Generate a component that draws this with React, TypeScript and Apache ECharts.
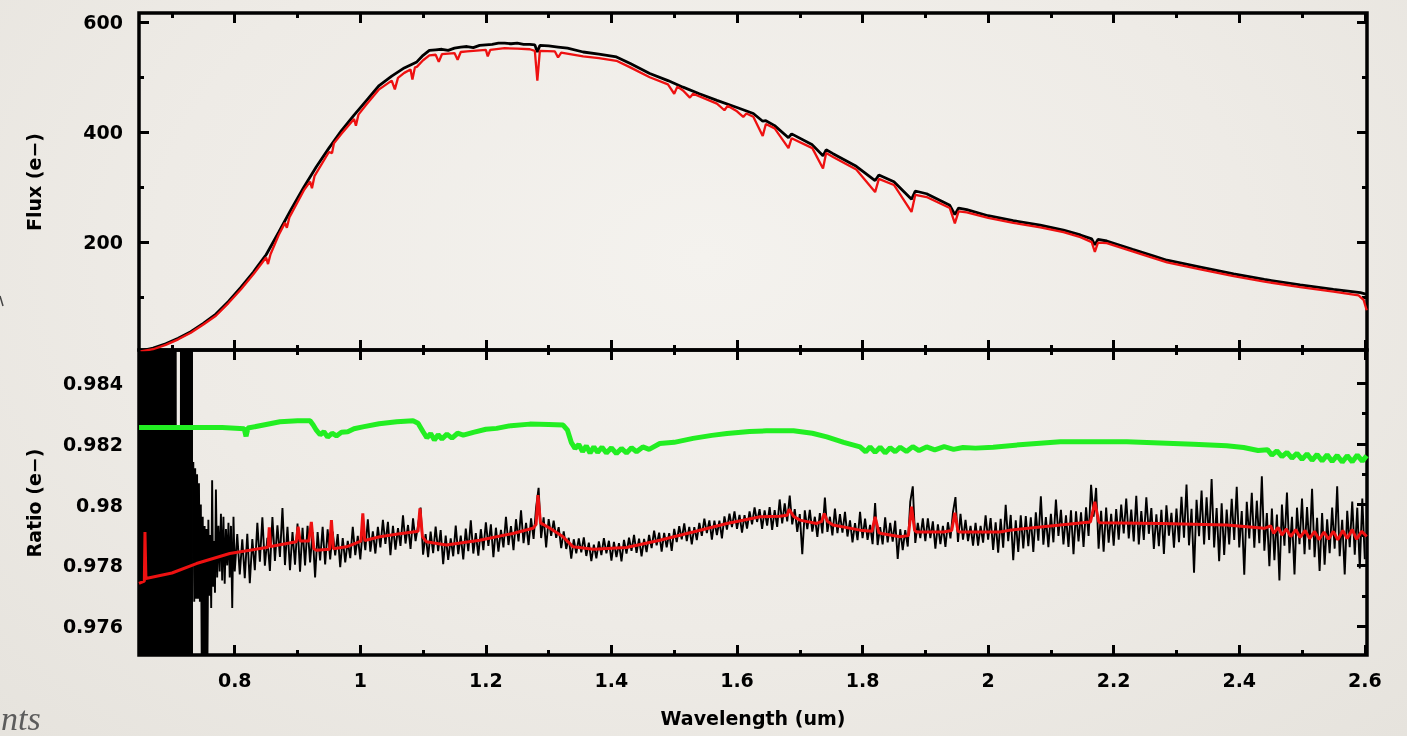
import React, { useEffect, useRef } from "react";
import * as echarts from "echarts";

// ---------- axes ----------
const X_MIN = 0.6475;
const X_MAX = 2.6035;
const FLUX_MIN = 3.6;
const FLUX_MAX = 617;
const RATIO_MIN = 0.97505;
const RATIO_MAX = 0.98509;

const X_MAJOR = [0.8, 1, 1.2, 1.4, 1.6, 1.8, 2, 2.2, 2.4, 2.6];
const X_MINOR = [0.7, 0.9, 1.1, 1.3, 1.5, 1.7, 1.9, 2.1, 2.3, 2.5];
const FLUX_MAJOR = [200, 400, 600];
const FLUX_MINOR = [100, 300, 500];
const RATIO_MAJOR = [0.976, 0.978, 0.98, 0.982, 0.984];
const RATIO_MINOR = [0.977, 0.979, 0.981, 0.983];

const X_TITLE = "Wavelength (um)";
const FLUX_TITLE = "Flux (e\u2212)";
const RATIO_TITLE = "Ratio (e\u2212)";

// ---------- top panel: flux ----------
const FLUX_OBS = [
  [0.65, 2], [0.67, 7], [0.69, 15], [0.71, 25], [0.73, 37], [0.75, 52], [0.77, 69], [0.79, 92],
  [0.81, 118], [0.83, 146], [0.85, 177], [0.87, 218], [0.89, 260], [0.91, 300], [0.93, 337],
  [0.95, 371], [0.97, 403], [0.99, 431], [1.01, 458], [1.03, 485], [1.05, 502], [1.07, 517],
  [1.09, 528], [1.1, 540], [1.11, 549], [1.12, 550], [1.13, 551], [1.14, 549], [1.15, 553],
  [1.16, 555], [1.17, 556], [1.18, 554], [1.19, 558], [1.2, 559], [1.21, 560], [1.22, 562],
  [1.23, 562], [1.24, 561], [1.25, 562], [1.26, 560], [1.27, 560], [1.278, 559], [1.282, 546],
  [1.286, 558], [1.3, 557], [1.315, 555], [1.33, 553], [1.355, 546], [1.38, 542], [1.408, 537],
  [1.43, 525], [1.461, 507], [1.49, 494], [1.514, 482], [1.54, 470], [1.568, 458], [1.6, 445],
  [1.626, 434], [1.641, 420], [1.646, 421], [1.66, 412], [1.682, 390], [1.687, 397], [1.72, 377],
  [1.737, 357], [1.742, 368], [1.753, 361], [1.79, 338], [1.82, 312], [1.826, 322], [1.85, 310],
  [1.878, 278], [1.884, 293], [1.902, 288], [1.939, 267], [1.947, 250], [1.953, 262], [1.966, 259],
  [2.0, 248], [2.04, 239], [2.083, 231], [2.12, 222], [2.147, 213], [2.165, 206], [2.17, 195],
  [2.175, 205], [2.189, 202], [2.23, 187], [2.285, 167], [2.34, 154], [2.391, 142], [2.44, 132],
  [2.497, 122], [2.55, 114], [2.593, 108], [2.603, 105],
];

const FLUX_MODEL = [
  [0.65, 1], [0.67, 5], [0.69, 13], [0.71, 23], [0.73, 35], [0.75, 50], [0.77, 66], [0.79, 89],
  [0.81, 114], [0.83, 142], [0.85, 172], [0.853, 160], [0.857, 178], [0.87, 213], [0.88, 235],
  [0.883, 226], [0.887, 245], [0.91, 294], [0.92, 310], [0.923, 298], [0.927, 320], [0.95, 364],
  [0.955, 362], [0.958, 380], [0.97, 397], [0.99, 424], [0.993, 412], [0.997, 432], [1.01, 451],
  [1.03, 478], [1.05, 494], [1.055, 478], [1.06, 499], [1.07, 508], [1.08, 514], [1.083, 496],
  [1.087, 518], [1.09, 519], [1.1, 531], [1.11, 540], [1.12, 541], [1.125, 528], [1.13, 542],
  [1.15, 544], [1.155, 532], [1.16, 546], [1.17, 547], [1.19, 549], [1.2, 550], [1.203, 538],
  [1.207, 550], [1.23, 553], [1.25, 552], [1.27, 551], [1.278, 548], [1.282, 494], [1.286, 548],
  [1.31, 547], [1.315, 536], [1.32, 545], [1.355, 538], [1.38, 535], [1.408, 530], [1.43, 518],
  [1.461, 500], [1.49, 487], [1.5, 470], [1.505, 483], [1.514, 476], [1.525, 463], [1.53, 470],
  [1.568, 452], [1.58, 440], [1.585, 448], [1.6, 438], [1.61, 428], [1.615, 434], [1.626, 428],
  [1.641, 393], [1.646, 415], [1.66, 407], [1.682, 371], [1.687, 389], [1.72, 371], [1.737, 334],
  [1.742, 362], [1.753, 355], [1.79, 332], [1.82, 291], [1.826, 315], [1.85, 304], [1.878, 255],
  [1.884, 286], [1.902, 282], [1.939, 262], [1.947, 234], [1.953, 256], [1.966, 254], [2.0, 244],
  [2.04, 235], [2.083, 227], [2.12, 218], [2.147, 209], [2.165, 200], [2.17, 182], [2.175, 199],
  [2.189, 198], [2.23, 183], [2.285, 163], [2.34, 150], [2.391, 138], [2.44, 128], [2.497, 118],
  [2.55, 110], [2.59, 103], [2.598, 95], [2.603, 76],
];

// ---------- bottom panel: ratio ----------
// blue end, where the noisy ratio swings beyond both axis limits
const RATIO_SATURATED = [
  [0.6475, 0.9855], [0.7075, 0.9855], [0.7076, 0.9826], [0.7127, 0.9826], [0.7128, 0.9855],
  [0.7335, 0.9855],
];

const RATIO_OBS = [
  [0.734, 0.9814], [0.7355, 0.9768], [0.737, 0.9812], [0.7385, 0.9769], [0.74, 0.981],
  [0.7415, 0.9769], [0.743, 0.9807], [0.7445, 0.9768], [0.746, 0.98], [0.7475, 0.9745],
  [0.749, 0.9796], [0.7505, 0.9745], [0.752, 0.9793], [0.7535, 0.9745], [0.755, 0.9792],
  [0.7565, 0.9748], [0.758, 0.9795], [0.7595, 0.977], [0.761, 0.979], [0.7625, 0.9766],
  [0.764, 0.9808], [0.7655, 0.9773], [0.767, 0.9788], [0.7685, 0.9771], [0.77, 0.9805],
  [0.772, 0.9776], [0.774, 0.9793], [0.776, 0.9778], [0.778, 0.9797], [0.78, 0.9775],
  [0.782, 0.9796], [0.784, 0.9774], [0.786, 0.9792], [0.788, 0.978], [0.79, 0.9794],
  [0.792, 0.9776], [0.794, 0.9793], [0.796, 0.9766], [0.798, 0.9796], [0.8, 0.9778],
  [0.804, 0.97903], [0.808, 0.9777], [0.812, 0.97886], [0.816, 0.97758], [0.82, 0.97904],
  [0.824, 0.97741], [0.828, 0.97887], [0.832, 0.97784], [0.836, 0.9794], [0.84, 0.97812],
  [0.844, 0.97958], [0.848, 0.97799], [0.852, 0.97891], [0.856, 0.97782], [0.86, 0.97959],
  [0.864, 0.97815], [0.868, 0.97932], [0.872, 0.97828], [0.876, 0.97989], [0.88, 0.97801],
  [0.884, 0.97927], [0.888, 0.97784], [0.892, 0.9791], [0.896, 0.97802], [0.9, 0.97938],
  [0.904, 0.97779], [0.908, 0.97924], [0.912, 0.978], [0.916, 0.9793], [0.92, 0.9781],
  [0.924, 0.9791], [0.928, 0.9776], [0.932, 0.9791], [0.936, 0.97816], [0.94, 0.97927],
  [0.944, 0.97803], [0.948, 0.97919], [0.952, 0.9782], [0.956, 0.97911], [0.96, 0.97833],
  [0.964, 0.97903], [0.968, 0.97794], [0.972, 0.9789], [0.976, 0.9781], [0.98, 0.97881],
  [0.984, 0.97824], [0.988, 0.97927], [0.992, 0.97834], [0.996, 0.97897], [1.0, 0.9782],
  [1.004, 0.97922], [1.008, 0.9785], [1.012, 0.97952], [1.016, 0.97845], [1.02, 0.97912],
  [1.024, 0.97839], [1.028, 0.97927], [1.032, 0.97859], [1.036, 0.9795], [1.04, 0.97871],
  [1.044, 0.97943], [1.048, 0.97834], [1.052, 0.9793], [1.056, 0.97852], [1.06, 0.97923],
  [1.064, 0.97864], [1.068, 0.97965], [1.072, 0.97872], [1.076, 0.97933], [1.08, 0.97854],
  [1.084, 0.97955], [1.088, 0.9788], [1.092, 0.97932], [1.096, 0.9799], [1.1, 0.97835],
  [1.104, 0.97903], [1.108, 0.97827], [1.112, 0.97911], [1.116, 0.9784], [1.12, 0.97928],
  [1.124, 0.97847], [1.128, 0.97916], [1.132, 0.97804], [1.136, 0.97898], [1.14, 0.97818],
  [1.144, 0.97889], [1.148, 0.9783], [1.152, 0.97931], [1.156, 0.97837], [1.16, 0.97898],
  [1.164, 0.9782], [1.168, 0.97921], [1.172, 0.97847], [1.176, 0.97948], [1.18, 0.97839],
  [1.184, 0.97906], [1.188, 0.97832], [1.192, 0.97919], [1.196, 0.9785], [1.2, 0.97942],
  [1.204, 0.97864], [1.208, 0.97935], [1.212, 0.97827], [1.216, 0.97924], [1.22, 0.97845],
  [1.224, 0.97917], [1.228, 0.97859], [1.232, 0.9796], [1.236, 0.97867], [1.24, 0.97929],
  [1.244, 0.9785], [1.248, 0.97952], [1.252, 0.97879], [1.256, 0.97981], [1.26, 0.97873],
  [1.264, 0.9794], [1.268, 0.97867], [1.272, 0.97955], [1.276, 0.97887], [1.28, 0.9799],
  [1.284, 0.98055], [1.288, 0.9789], [1.292, 0.97958], [1.296, 0.97859], [1.3, 0.97952],
  [1.304, 0.97897], [1.308, 0.97947], [1.312, 0.97891], [1.316, 0.97926], [1.32, 0.97857],
  [1.324, 0.97912], [1.328, 0.97854], [1.332, 0.97891], [1.336, 0.97822], [1.34, 0.97886],
  [1.344, 0.9784], [1.348, 0.97889], [1.352, 0.97843], [1.356, 0.97892], [1.36, 0.97831],
  [1.364, 0.97875], [1.368, 0.97814], [1.372, 0.97868], [1.376, 0.97823], [1.38, 0.97879],
  [1.384, 0.97834], [1.388, 0.9789], [1.392, 0.9784], [1.396, 0.97881], [1.4, 0.97816],
  [1.404, 0.97877], [1.408, 0.97827], [1.412, 0.97873], [1.416, 0.97813], [1.42, 0.97884],
  [1.424, 0.97839], [1.428, 0.97891], [1.432, 0.97848], [1.436, 0.979], [1.44, 0.97841],
  [1.444, 0.97888], [1.448, 0.9783], [1.452, 0.97887], [1.456, 0.97844], [1.46, 0.979],
  [1.464, 0.97857], [1.468, 0.97914], [1.472, 0.97866], [1.476, 0.97908], [1.48, 0.97845],
  [1.484, 0.97907], [1.488, 0.97859], [1.492, 0.97906], [1.496, 0.97848], [1.5, 0.9792],
  [1.504, 0.97877], [1.508, 0.97929], [1.512, 0.97886], [1.516, 0.97938], [1.52, 0.9788],
  [1.524, 0.97927], [1.528, 0.97869], [1.532, 0.97926], [1.536, 0.97883], [1.54, 0.9794],
  [1.544, 0.97897], [1.548, 0.97954], [1.552, 0.97906], [1.556, 0.97948], [1.56, 0.97885],
  [1.564, 0.97947], [1.568, 0.979], [1.572, 0.97947], [1.576, 0.97889], [1.58, 0.97961],
  [1.584, 0.97918], [1.588, 0.9797], [1.592, 0.97926], [1.596, 0.97978], [1.6, 0.9792],
  [1.604, 0.97966], [1.608, 0.97908], [1.612, 0.97965], [1.616, 0.97921], [1.62, 0.97978],
  [1.624, 0.97935], [1.628, 0.97991], [1.632, 0.97943], [1.636, 0.97985], [1.64, 0.9792],
  [1.644, 0.97981], [1.648, 0.97931], [1.652, 0.97992], [1.656, 0.97917], [1.66, 0.97982],
  [1.664, 0.97927], [1.668, 0.98017], [1.672, 0.97938], [1.676, 0.98004], [1.68, 0.97945],
  [1.684, 0.9803], [1.688, 0.97935], [1.692, 0.97985], [1.696, 0.9791], [1.7, 0.97969],
  [1.704, 0.97837], [1.708, 0.97981], [1.712, 0.97919], [1.716, 0.97983], [1.72, 0.97911],
  [1.724, 0.9796], [1.728, 0.97894], [1.732, 0.97972], [1.736, 0.97905], [1.74, 0.98023],
  [1.744, 0.9791], [1.748, 0.9796], [1.752, 0.97899], [1.756, 0.97987], [1.76, 0.97906],
  [1.764, 0.97969], [1.768, 0.97908], [1.772, 0.97976], [1.776, 0.97895], [1.78, 0.97948],
  [1.784, 0.97876], [1.788, 0.97939], [1.792, 0.97883], [1.796, 0.97976], [1.8, 0.9789],
  [1.804, 0.97954], [1.808, 0.97884], [1.812, 0.97933], [1.816, 0.9787], [1.82, 0.98005],
  [1.824, 0.97867], [1.828, 0.97926], [1.832, 0.97869], [1.836, 0.97958], [1.84, 0.97876],
  [1.844, 0.9794], [1.848, 0.97878], [1.852, 0.97947], [1.856, 0.97821], [1.86, 0.97919],
  [1.864, 0.9785], [1.868, 0.97916], [1.872, 0.97862], [1.876, 0.9801], [1.88, 0.9806],
  [1.884, 0.97874], [1.888, 0.9794], [1.892, 0.9789], [1.896, 0.97955], [1.9, 0.9788],
  [1.904, 0.97955], [1.908, 0.9789], [1.912, 0.97945], [1.916, 0.97855], [1.92, 0.97935],
  [1.924, 0.9787], [1.928, 0.9793], [1.932, 0.97861], [1.936, 0.97942], [1.94, 0.97889],
  [1.944, 0.97975], [1.948, 0.98025], [1.952, 0.97877], [1.956, 0.9797], [1.96, 0.97885],
  [1.964, 0.9795], [1.968, 0.9788], [1.972, 0.9793], [1.976, 0.97865], [1.98, 0.9794],
  [1.984, 0.97865], [1.988, 0.9793], [1.992, 0.97875], [1.996, 0.97965], [2.0, 0.97885],
  [2.004, 0.97956], [2.008, 0.97851], [2.012, 0.97942], [2.016, 0.97842], [2.02, 0.97953],
  [2.024, 0.97858], [2.028, 0.97999], [2.032, 0.9788], [2.036, 0.97966], [2.04, 0.97817],
  [2.044, 0.97948], [2.048, 0.97844], [2.052, 0.97965], [2.056, 0.97856], [2.06, 0.97962],
  [2.064, 0.97863], [2.068, 0.97958], [2.072, 0.97844], [2.076, 0.97975], [2.08, 0.97881],
  [2.084, 0.98027], [2.088, 0.97868], [2.092, 0.97959], [2.096, 0.9786], [2.1, 0.9797],
  [2.104, 0.97876], [2.108, 0.98017], [2.112, 0.97897], [2.116, 0.97983], [2.12, 0.97869],
  [2.124, 0.97965], [2.128, 0.97861], [2.132, 0.97981], [2.136, 0.97837], [2.14, 0.97978],
  [2.144, 0.97879], [2.148, 0.97975], [2.152, 0.97861], [2.156, 0.97991], [2.16, 0.97897],
  [2.164, 0.98065], [2.168, 0.9796], [2.172, 0.98055], [2.176, 0.97855], [2.18, 0.9798],
  [2.184, 0.97845], [2.188, 0.9799], [2.192, 0.97875], [2.196, 0.9797], [2.2, 0.97865],
  [2.204, 0.97985], [2.208, 0.97885], [2.212, 0.98], [2.216, 0.97905], [2.22, 0.9802],
  [2.224, 0.97889], [2.228, 0.97984], [2.232, 0.97879], [2.236, 0.98029], [2.24, 0.97869],
  [2.244, 0.97979], [2.248, 0.97884], [2.252, 0.98024], [2.256, 0.97904], [2.26, 0.97989],
  [2.264, 0.97854], [2.268, 0.97968], [2.272, 0.97863], [2.276, 0.97983], [2.28, 0.97838],
  [2.284, 0.97998], [2.288, 0.97898], [2.292, 0.97973], [2.296, 0.97858], [2.3, 0.97987],
  [2.304, 0.97876], [2.308, 0.98026], [2.312, 0.97891], [2.316, 0.98066], [2.32, 0.97866],
  [2.324, 0.97986], [2.328, 0.97776], [2.332, 0.98016], [2.336, 0.97896], [2.34, 0.98046],
  [2.344, 0.97869], [2.348, 0.98024], [2.352, 0.97884], [2.356, 0.98084], [2.36, 0.97859],
  [2.364, 0.97989], [2.368, 0.97814], [2.372, 0.98004], [2.376, 0.97834], [2.38, 0.97984],
  [2.384, 0.97869], [2.388, 0.98019], [2.392, 0.97884], [2.396, 0.98059], [2.4, 0.97859],
  [2.404, 0.97979], [2.408, 0.97769], [2.412, 0.98009], [2.416, 0.97889], [2.42, 0.98039],
  [2.424, 0.97858], [2.428, 0.98013], [2.432, 0.97873], [2.436, 0.98093], [2.44, 0.97848],
  [2.444, 0.97972], [2.448, 0.97797], [2.452, 0.97987], [2.456, 0.97817], [2.46, 0.97967],
  [2.464, 0.9775], [2.468, 0.98], [2.472, 0.97865], [2.476, 0.9804], [2.48, 0.9784],
  [2.484, 0.9796], [2.488, 0.9777], [2.492, 0.9799], [2.496, 0.9787], [2.5, 0.9802],
  [2.504, 0.97837], [2.508, 0.97992], [2.512, 0.97852], [2.516, 0.98052], [2.52, 0.97827],
  [2.524, 0.97957], [2.528, 0.97782], [2.532, 0.97972], [2.536, 0.97802], [2.54, 0.97952],
  [2.544, 0.9784], [2.548, 0.9799], [2.552, 0.97855], [2.556, 0.9806], [2.56, 0.9783],
  [2.564, 0.9795], [2.568, 0.9777], [2.572, 0.9798], [2.576, 0.9786], [2.58, 0.9801],
  [2.584, 0.97835], [2.588, 0.9799], [2.592, 0.9779], [2.596, 0.9802], [2.6, 0.9782],
];

const RATIO_MODEL = [
  [0.6475, 0.97741], [0.656, 0.97748], [0.657, 0.9791], [0.6585, 0.97757], [0.7, 0.97775],
  [0.739, 0.97806], [0.792, 0.97839], [0.853, 0.9786], [0.855, 0.97925], [0.857, 0.97862],
  [0.898, 0.97878], [0.901, 0.97927], [0.904, 0.9788], [0.918, 0.9788], [0.922, 0.97943],
  [0.926, 0.97855], [0.93, 0.9785], [0.951, 0.97853], [0.954, 0.97949], [0.957, 0.97855],
  [0.978, 0.97861], [1.001, 0.9788], [1.004, 0.97971], [1.007, 0.97882], [1.031, 0.97894],
  [1.06, 0.97903], [1.084, 0.9791], [1.092, 0.97912], [1.095, 0.97988], [1.099, 0.97895],
  [1.105, 0.97878], [1.137, 0.97867], [1.19, 0.97883], [1.243, 0.97905], [1.275, 0.97922],
  [1.28, 0.97935], [1.283, 0.98031], [1.287, 0.9794], [1.302, 0.97922], [1.323, 0.97894],
  [1.339, 0.97861], [1.371, 0.97853], [1.424, 0.97859], [1.477, 0.97883], [1.53, 0.9791],
  [1.584, 0.97938], [1.637, 0.9796], [1.668, 0.97962], [1.68, 0.97965], [1.683, 0.97985],
  [1.69, 0.97962], [1.7, 0.97949], [1.727, 0.97938], [1.735, 0.97945], [1.739, 0.97971],
  [1.744, 0.97945], [1.753, 0.97933], [1.796, 0.97916], [1.815, 0.97912], [1.82, 0.9796],
  [1.826, 0.97908], [1.83, 0.97905], [1.86, 0.97894], [1.873, 0.97898], [1.878, 0.97993],
  [1.883, 0.97915], [1.886, 0.9791], [1.929, 0.9791], [1.942, 0.97915], [1.947, 0.97973],
  [1.952, 0.97912], [1.955, 0.9791], [2.019, 0.9791], [2.035, 0.97916], [2.115, 0.97933],
  [2.163, 0.97943], [2.17, 0.98009], [2.176, 0.97945], [2.178, 0.9794], [2.274, 0.97938],
  [2.38, 0.97933], [2.44, 0.97922], [2.45, 0.9793], [2.455, 0.97905], [2.462, 0.97925],
  [2.468, 0.979], [2.475, 0.9792], [2.482, 0.97895], [2.49, 0.97918], [2.497, 0.97892],
  [2.505, 0.97915], [2.512, 0.97888], [2.52, 0.97912], [2.527, 0.97885], [2.535, 0.9791],
  [2.542, 0.97886], [2.55, 0.97912], [2.557, 0.97884], [2.565, 0.97915], [2.572, 0.97888],
  [2.58, 0.97918], [2.587, 0.97886], [2.595, 0.97912], [2.603, 0.97895],
];

const RATIO_GREEN = [
  [0.6475, 0.98254], [0.7, 0.98254], [0.739, 0.98254], [0.78, 0.98254], [0.815, 0.9825],
  [0.818, 0.98225], [0.821, 0.98252], [0.85, 0.98264], [0.872, 0.98273], [0.9, 0.98276],
  [0.92, 0.98276], [0.925, 0.98262], [0.93, 0.98245], [0.936, 0.9823], [0.942, 0.9824],
  [0.948, 0.98222], [0.955, 0.98235], [0.962, 0.98226], [0.97, 0.98238], [0.98, 0.9824],
  [0.99, 0.9825], [1.004, 0.98256], [1.03, 0.98266], [1.058, 0.98273], [1.084, 0.98276],
  [1.092, 0.98268], [1.1, 0.9824], [1.106, 0.9822], [1.112, 0.98234], [1.118, 0.98213],
  [1.124, 0.9823], [1.13, 0.98216], [1.138, 0.98232], [1.146, 0.98219], [1.155, 0.98235],
  [1.164, 0.98229], [1.18, 0.98238], [1.2, 0.98248], [1.217, 0.98251], [1.24, 0.9826],
  [1.27, 0.98265], [1.3, 0.98264], [1.323, 0.98262], [1.33, 0.98245], [1.336, 0.98205],
  [1.342, 0.98185], [1.348, 0.98198], [1.354, 0.98175], [1.36, 0.98193], [1.366, 0.9817],
  [1.372, 0.9819], [1.378, 0.98172], [1.385, 0.98189], [1.392, 0.9817], [1.4, 0.98187],
  [1.408, 0.98168], [1.416, 0.98185], [1.424, 0.9817], [1.432, 0.98187], [1.44, 0.98174],
  [1.45, 0.9819], [1.46, 0.98182], [1.477, 0.98201], [1.5, 0.98205], [1.53, 0.98218],
  [1.56, 0.98228], [1.584, 0.98234], [1.62, 0.98241], [1.647, 0.98243], [1.69, 0.98243],
  [1.72, 0.98235], [1.743, 0.98223], [1.77, 0.98205], [1.796, 0.9819], [1.805, 0.98174],
  [1.812, 0.9819], [1.82, 0.98172], [1.828, 0.98189], [1.836, 0.9817], [1.844, 0.98187],
  [1.852, 0.98174], [1.86, 0.98189], [1.87, 0.98175], [1.88, 0.98191], [1.89, 0.98178],
  [1.902, 0.9819], [1.915, 0.9818], [1.93, 0.98191], [1.945, 0.98182], [1.96, 0.98188],
  [1.98, 0.98186], [2.008, 0.98189], [2.05, 0.98197], [2.115, 0.98207], [2.221, 0.98207],
  [2.327, 0.98199], [2.38, 0.98194], [2.407, 0.98188], [2.43, 0.98178], [2.445, 0.98181],
  [2.452, 0.98163], [2.46, 0.98177], [2.468, 0.98158], [2.476, 0.98172], [2.484, 0.98153],
  [2.492, 0.98169], [2.5, 0.98149], [2.508, 0.98167], [2.516, 0.98146], [2.524, 0.98165],
  [2.532, 0.98144], [2.54, 0.98164], [2.548, 0.98142], [2.556, 0.98162], [2.564, 0.9814],
  [2.572, 0.98161], [2.58, 0.98141], [2.588, 0.98163], [2.596, 0.98143], [2.603, 0.98161],
];

// ---------- styling ----------
const FONT = "DejaVu Sans";
const TICK_STYLE = { color: "#000", width: 3 };
const LABEL_STYLE = { color: "#000", fontFamily: FONT, fontWeight: "bold" as const, fontSize: 19 };

function xAxis(gridIndex: number, position: string, ticks: number[], len: number, labels: boolean) {
  return {
    type: "value",
    gridIndex,
    position,
    min: X_MIN,
    max: X_MAX,
    axisLine: { show: false, onZero: false },
    axisTick: { show: true, inside: true, length: len, customValues: ticks, lineStyle: TICK_STYLE },
    axisLabel: labels
      ? { show: true, customValues: ticks, margin: 15, ...LABEL_STYLE, formatter: (v: number) => String(v) }
      : { show: false },
    splitLine: { show: false },
  };
}

function yAxis(gridIndex: number, position: string, min: number, max: number, ticks: number[], len: number, labels: boolean) {
  return {
    type: "value",
    gridIndex,
    position,
    min,
    max,
    axisLine: { show: false, onZero: false },
    axisTick: { show: true, inside: true, length: len, customValues: ticks, lineStyle: TICK_STYLE },
    axisLabel: labels
      ? { show: true, customValues: ticks, margin: 16, ...LABEL_STYLE, formatter: (v: number) => String(v) }
      : { show: false },
    splitLine: { show: false },
  };
}

export default function App() {
  const ref = useRef<HTMLDivElement>(null);

  useEffect(() => {
    if (!ref.current) return;
    const chart = echarts.init(ref.current, null, { renderer: "svg" });
    const MAJ = 10;
    const MIN = 5;
    const option = {
      animation: false,
      backgroundColor: "transparent",
      grid: [
        { left: 139, top: 13, width: 1228, height: 337, show: true, borderColor: "#000", borderWidth: 3.5, backgroundColor: "transparent" },
        { left: 139, top: 350, width: 1228, height: 305, show: true, borderColor: "#000", borderWidth: 3.5, backgroundColor: "transparent" },
      ],
      xAxis: [
        xAxis(0, "bottom", X_MAJOR, MAJ, false),
        xAxis(0, "bottom", X_MINOR, MIN, false),
        xAxis(0, "top", X_MAJOR, MAJ, false),
        xAxis(0, "top", X_MINOR, MIN, false),
        xAxis(1, "top", X_MAJOR, MAJ, false),
        xAxis(1, "top", X_MINOR, MIN, false),
        xAxis(1, "bottom", X_MAJOR, MAJ, true),
        xAxis(1, "bottom", X_MINOR, MIN, false),
      ],
      yAxis: [
        yAxis(0, "left", FLUX_MIN, FLUX_MAX, FLUX_MAJOR, MAJ, true),
        yAxis(0, "left", FLUX_MIN, FLUX_MAX, FLUX_MINOR, MIN, false),
        yAxis(0, "right", FLUX_MIN, FLUX_MAX, FLUX_MAJOR, MAJ, false),
        yAxis(0, "right", FLUX_MIN, FLUX_MAX, FLUX_MINOR, MIN, false),
        yAxis(1, "left", RATIO_MIN, RATIO_MAX, RATIO_MAJOR, MAJ, true),
        yAxis(1, "left", RATIO_MIN, RATIO_MAX, RATIO_MINOR, MIN, false),
        yAxis(1, "right", RATIO_MIN, RATIO_MAX, RATIO_MAJOR, MAJ, false),
        yAxis(1, "right", RATIO_MIN, RATIO_MAX, RATIO_MINOR, MIN, false),
      ],
      series: [
        {
          name: "Flux observed", type: "line", xAxisIndex: 0, yAxisIndex: 0, data: FLUX_OBS,
          showSymbol: false, symbol: "none", lineStyle: { color: "#000", width: 2.8 }, z: 3,
        },
        {
          name: "Flux model", type: "line", xAxisIndex: 0, yAxisIndex: 0, data: FLUX_MODEL,
          showSymbol: false, symbol: "none", lineStyle: { color: "#ee1111", width: 2.3 }, z: 4,
        },
        {
          name: "Ratio saturated", type: "line", xAxisIndex: 6, yAxisIndex: 4, data: RATIO_SATURATED,
          showSymbol: false, symbol: "none", lineStyle: { width: 0, color: "#000" },
          areaStyle: { color: "#000", opacity: 1, origin: "start" }, z: 2,
        },
        {
          name: "Ratio observed", type: "line", xAxisIndex: 6, yAxisIndex: 4, data: RATIO_OBS,
          showSymbol: false, symbol: "none", lineStyle: { color: "#000", width: 1.9 }, z: 3,
        },
        {
          name: "Ratio green", type: "line", xAxisIndex: 6, yAxisIndex: 4, data: RATIO_GREEN,
          showSymbol: false, symbol: "none", lineStyle: { color: "#22ee22", width: 5 }, z: 4,
        },
        {
          name: "Ratio model", type: "line", xAxisIndex: 6, yAxisIndex: 4, data: RATIO_MODEL,
          showSymbol: false, symbol: "none", lineStyle: { color: "#ee1111", width: 3 }, z: 5,
        },
      ],
      graphic: [
        {
          type: "text", x: 34, y: 182, rotation: Math.PI / 2,
          style: { text: FLUX_TITLE, fill: "#000", font: `bold 19px "${FONT}"`, textAlign: "center", textVerticalAlign: "middle", align: "center", verticalAlign: "middle" },
        },
        {
          type: "text", x: 34, y: 503, rotation: Math.PI / 2,
          style: { text: RATIO_TITLE, fill: "#000", font: `bold 19px "${FONT}"`, textAlign: "center", textVerticalAlign: "middle", align: "center", verticalAlign: "middle" },
        },
        {
          type: "text", x: 753, y: 718,
          style: { text: X_TITLE, fill: "#000", font: `bold 19px "${FONT}"`, textAlign: "center", textVerticalAlign: "middle", align: "center", verticalAlign: "middle" },
        },
        {
          type: "text", x: 1, y: 735,
          style: { text: "nts", fill: "#5c5c5c", font: `italic 34px "Liberation Serif"`, textAlign: "left", textVerticalAlign: "bottom", align: "left", verticalAlign: "bottom" },
        },
        {
          type: "line", shape: { x1: 0, y1: 296, x2: 3, y2: 306 },
          style: { stroke: "#444", lineWidth: 1.5 },
        },
      ],
    };
    chart.setOption(option as any);
    return () => chart.dispose();
  }, []);

  return (
    <div
      ref={ref}
      style={{
        position: "fixed",
        left: 0,
        top: 0,
        width: 1407,
        height: 736,
        background: "radial-gradient(ellipse at 50% 35%, #f4f2ee 0%, #eeebe6 55%, #e6e3dd 100%)",
      }}
    />
  );
}
